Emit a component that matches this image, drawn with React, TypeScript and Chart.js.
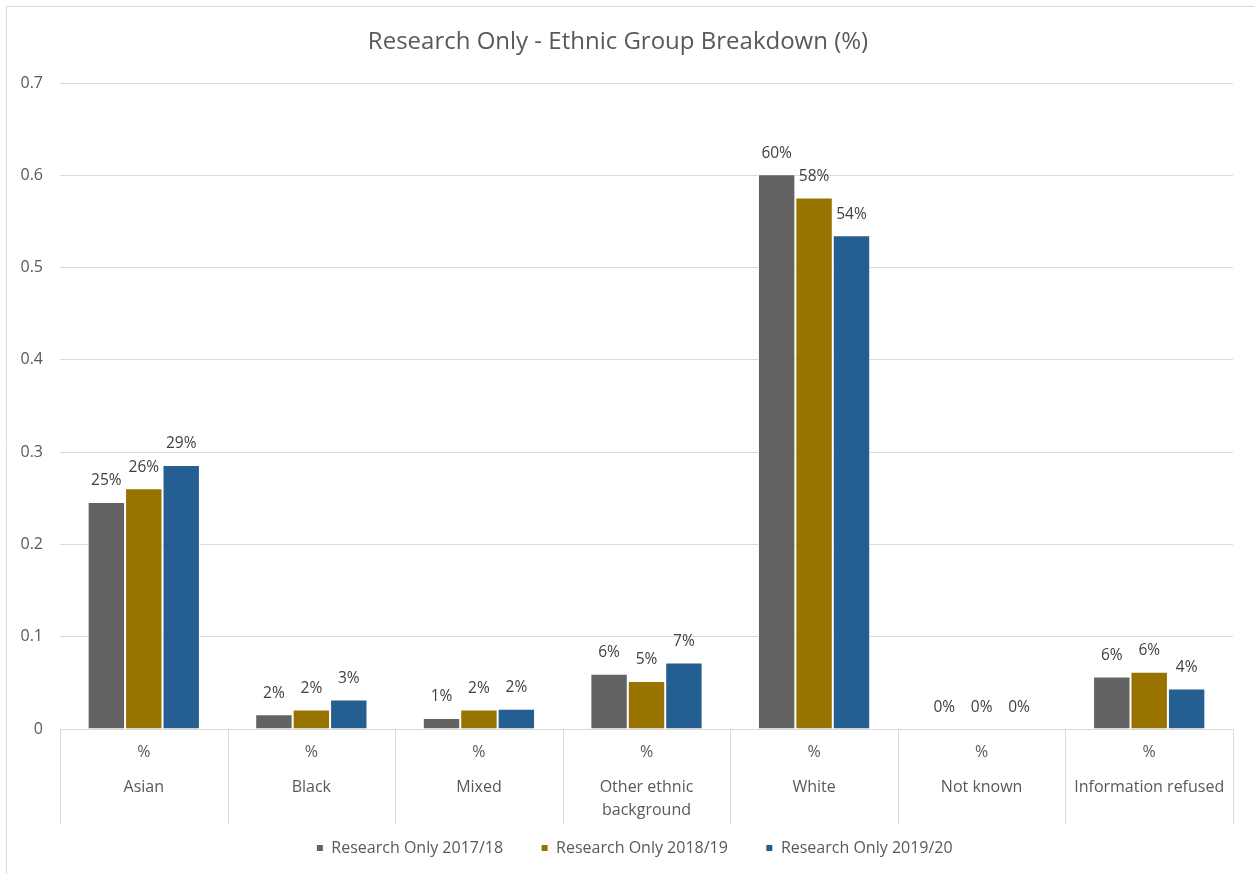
import React, { useEffect, useRef } from "react";
import { Chart, registerables } from "chart.js";

Chart.register(...registerables);

// ---- data ----
const chartTitle = "Research Only - Ethnic Group Breakdown (%)";
const categories = [
  "Asian",
  "Black",
  "Mixed",
  "Other ethnic background",
  "White",
  "Not known",
  "Information refused",
];
const unitRowLabel = "%";
const seriesNames = ["Research Only 2017/18", "Research Only 2018/19", "Research Only 2019/20"];
const values201718 = [0.246, 0.016, 0.012, 0.06, 0.601, 0, 0.057];
const values201819 = [0.261, 0.021, 0.021, 0.052, 0.576, 0, 0.062];
const values201920 = [0.286, 0.032, 0.022, 0.072, 0.535, 0, 0.044];
const yMin = 0;
const yMax = 0.7;
const yStep = 0.1;

const seriesColors = ["#636363", "#997300", "#255e91"];
const FONT = "'Open Sans', 'Liberation Sans', sans-serif";
const TEXT = "#595959";
const LINE = "#d9d9d9";

function wrapText(ctx: CanvasRenderingContext2D, text: string, maxWidth: number): string[] {
  const words = text.split(" ");
  const lines: string[] = [];
  let cur = "";
  for (const w of words) {
    const test = cur ? cur + " " + w : w;
    if (cur && ctx.measureText(test).width > maxWidth) {
      lines.push(cur);
      cur = w;
    } else {
      cur = test;
    }
  }
  if (cur) lines.push(cur);
  return lines;
}

// frame, title, two-row category axis and value labels
const decorations = {
  id: "decorations",
  afterLayout(chart: any) {
    // centre the legend row under the plot rather than the whole canvas
    const lg = chart.legend;
    if (lg) {
      lg.left += 18;
      lg.right += 18;
    }
  },
  beforeDraw(chart: any) {
    const { ctx, width, height } = chart;
    ctx.save();
    ctx.fillStyle = "#ffffff";
    ctx.fillRect(0, 0, width, height);
    ctx.strokeStyle = LINE;
    ctx.lineWidth = 1;
    ctx.beginPath();
    ctx.moveTo(6.5, height + 2);
    ctx.lineTo(6.5, 6.5);
    ctx.lineTo(width + 2, 6.5);
    ctx.stroke();

    ctx.font = `24px ${FONT}`;
    ctx.fillStyle = TEXT;
    ctx.textAlign = "center";
    ctx.textBaseline = "middle";
    ctx.fillText(chartTitle, 618, 42);
    ctx.restore();
  },
  afterDatasetsDraw(chart: any) {
    const { ctx } = chart;
    ctx.save();
    ctx.font = `15.5px ${FONT}`;
    ctx.fillStyle = "#404040";
    ctx.textAlign = "center";
    ctx.textBaseline = "middle";
    chart.data.datasets.forEach((ds: any, di: number) => {
      const meta = chart.getDatasetMeta(di);
      meta.data.forEach((bar: any, i: number) => {
        const v = ds.data[i] as number;
        ctx.fillText(`${Math.round(v * 100)}%`, bar.x, bar.y - 21);
      });
    });
    ctx.restore();
  },
  afterDraw(chart: any) {
    const { ctx, chartArea } = chart;
    const xScale = chart.scales.x;
    const n = categories.length;
    const catW = (chartArea.right - chartArea.left) / n;
    const top = chartArea.bottom;
    const bottom = top + 95;
    ctx.save();
    ctx.strokeStyle = LINE;
    ctx.lineWidth = 1;
    ctx.beginPath();
    for (let i = 0; i <= n; i++) {
      const x = Math.round(chartArea.left + i * catW) + 0.5;
      ctx.moveTo(x, top);
      ctx.lineTo(x, bottom);
    }
    ctx.stroke();

    ctx.font = `16px ${FONT}`;
    ctx.fillStyle = TEXT;
    ctx.textAlign = "center";
    ctx.textBaseline = "middle";
    categories.forEach((name, i) => {
      const cx = xScale.getPixelForValue(i);
      ctx.fillText(unitRowLabel, cx, top + 23);
      const lines = wrapText(ctx, name, catW - 8);
      lines.forEach((ln, k) => ctx.fillText(ln, cx, top + 58 + k * 23));
    });
    ctx.restore();
  },
};

export default function App() {
  const canvasRef = useRef<HTMLCanvasElement | null>(null);

  useEffect(() => {
    if (!canvasRef.current) return;
    const chart = new Chart(canvasRef.current, {
      type: "bar",
      data: {
        labels: categories,
        datasets: [values201718, values201819, values201920].map((vals, i) => ({
          label: seriesNames[i],
          data: vals,
          backgroundColor: seriesColors[i],
          borderColor: "#ffffff",
          borderWidth: 1,
          categoryPercentage: 0.67,
          barPercentage: 1,
        })),
      },
      options: {
        responsive: false,
        animation: false,
        layout: { padding: { left: 0, right: 21, top: 83, bottom: 8 } },
        plugins: {
          title: { display: false },
          legend: {
            position: "bottom",
            labels: {
              usePointStyle: true,
              pointStyle: "rect",
              boxWidth: 7,
              boxHeight: 7,
              padding: 38,
              color: TEXT,
              font: { family: FONT, size: 16 },
            },
          },
          tooltip: { enabled: false },
        },
        scales: {
          x: {
            ticks: { display: false },
            grid: { display: false },
            border: { display: true, color: LINE },
            afterFit: (s: any) => {
              s.height = 73;
            },
          },
          y: {
            min: yMin,
            max: yMax,
            ticks: {
              stepSize: yStep,
              color: TEXT,
              padding: 17,
              font: { family: FONT, size: 16 },
              callback: (v: any) => (Number(v) === 0 ? "0" : Number(v).toFixed(1)),
            },
            grid: { color: LINE, drawTicks: false },
            border: { display: false },
            afterFit: (s: any) => {
              s.width = 60;
            },
          },
        },
      },
      plugins: [decorations],
    });
    return () => chart.destroy();
  }, []);

  return (
    <div style={{ position: "absolute", left: 0, top: 0, width: 1254, height: 874 }}>
      <canvas ref={canvasRef} width={1254} height={874} style={{ display: "block" }} />
    </div>
  );
}
